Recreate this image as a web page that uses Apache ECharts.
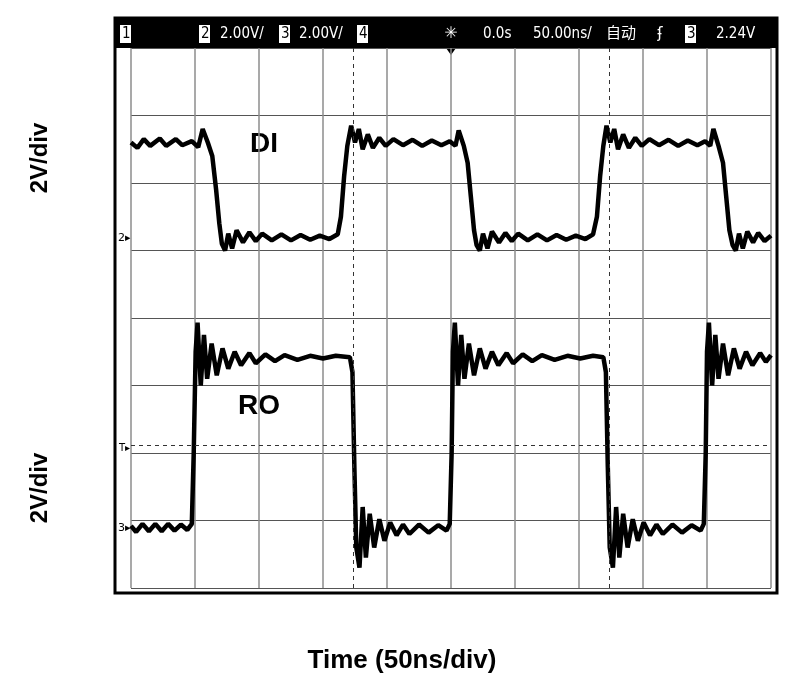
<!DOCTYPE html>
<html><head><meta charset="utf-8">
<script src="https://cdn.jsdelivr.net/npm/echarts@6/dist/echarts.min.js"></script>
<style>html,body{margin:0;background:#fff}#c{width:786px;height:685px}</style>
</head><body><div id="c"></div>
<script>
// 示波器截图：时间和电压都按格(div)计
var diWave = [
  [0,6.6],[0.1,6.52],[0.2,6.65],[0.3,6.55],[0.45,6.66],[0.55,6.55],[0.7,6.65],[0.8,6.56],[0.95,6.62],[1.05,6.53],
  [1.12,6.8],[1.2,6.6],[1.27,6.4],[1.33,5.9],[1.38,5.4],[1.42,5.1],[1.47,5.0],[1.52,5.25],[1.58,5.03],[1.65,5.3],
  [1.75,5.12],[1.85,5.27],[1.95,5.14],[2.05,5.25],[2.2,5.15],[2.35,5.24],[2.5,5.15],[2.65,5.23],[2.8,5.16],[2.95,5.22],
  [3.1,5.17],[3.23,5.24],[3.28,5.5],[3.33,6.1],[3.38,6.55],[3.44,6.85],[3.5,6.6],[3.56,6.8],[3.62,6.5],[3.7,6.72],
  [3.78,6.52],[3.88,6.67],[3.98,6.55],[4.1,6.65],[4.25,6.56],[4.4,6.64],[4.55,6.55],[4.7,6.63],[4.85,6.56],[4.98,6.62],
  [5.07,6.55],[5.12,6.78],[5.2,6.55],[5.26,6.3],[5.31,5.8],[5.36,5.3],[5.4,5.08],[5.45,5.0],[5.5,5.25],[5.57,5.03],
  [5.64,5.28],[5.75,5.12],[5.85,5.26],[5.95,5.14],[6.05,5.25],[6.2,5.15],[6.35,5.24],[6.5,5.15],[6.65,5.23],[6.8,5.16],
  [6.95,5.22],[7.1,5.17],[7.22,5.24],[7.28,5.5],[7.33,6.1],[7.38,6.55],[7.43,6.85],[7.49,6.6],[7.55,6.8],[7.61,6.5],
  [7.69,6.72],[7.78,6.52],[7.88,6.67],[7.98,6.55],[8.1,6.65],[8.25,6.56],[8.4,6.64],[8.55,6.55],[8.7,6.63],[8.85,6.56],
  [8.97,6.62],[9.05,6.55],[9.1,6.8],[9.18,6.55],[9.25,6.3],[9.3,5.8],[9.35,5.3],[9.4,5.08],[9.45,5.0],[9.5,5.25],
  [9.56,5.03],[9.63,5.28],[9.72,5.12],[9.8,5.26],[9.9,5.14],[10,5.22]
];
var roWave = [
  [0,0.92],[0.08,0.83],[0.18,0.95],[0.28,0.84],[0.38,0.95],[0.48,0.84],[0.58,0.95],[0.68,0.85],[0.78,0.94],[0.88,0.86],
  [0.95,0.95],[0.98,2.0],[1.01,3.5],[1.04,3.93],[1.09,3.0],[1.14,3.75],[1.19,3.1],[1.26,3.62],[1.34,3.15],[1.43,3.55],
  [1.52,3.25],[1.62,3.5],[1.72,3.3],[1.85,3.48],[1.95,3.33],[2.1,3.46],[2.25,3.36],[2.4,3.45],[2.6,3.38],[2.8,3.44],
  [3.0,3.4],[3.2,3.44],[3.42,3.42],[3.46,3.2],[3.49,1.8],[3.52,0.6],[3.57,0.3],[3.62,1.2],[3.67,0.45],[3.73,1.1],
  [3.8,0.6],[3.88,1.02],[3.96,0.7],[4.05,0.97],[4.15,0.78],[4.25,0.94],[4.35,0.8],[4.5,0.94],[4.65,0.82],[4.8,0.93],
  [4.93,0.85],[4.98,0.95],[5.01,2.0],[5.03,3.5],[5.06,3.93],[5.11,3.0],[5.16,3.75],[5.21,3.1],[5.28,3.62],[5.36,3.15],
  [5.45,3.55],[5.54,3.25],[5.64,3.5],[5.74,3.3],[5.87,3.48],[5.97,3.33],[6.12,3.46],[6.27,3.36],[6.42,3.45],[6.62,3.38],
  [6.82,3.44],[7.02,3.4],[7.22,3.44],[7.38,3.42],[7.42,3.2],[7.45,1.8],[7.48,0.6],[7.53,0.3],[7.58,1.2],[7.63,0.45],
  [7.69,1.1],[7.76,0.6],[7.84,1.02],[7.92,0.7],[8.01,0.97],[8.11,0.78],[8.21,0.94],[8.31,0.8],[8.46,0.94],[8.61,0.82],
  [8.76,0.93],[8.9,0.85],[8.95,0.95],[8.98,2.0],[9.0,3.5],[9.03,3.93],[9.08,3.0],[9.13,3.75],[9.18,3.1],[9.25,3.62],
  [9.33,3.15],[9.42,3.55],[9.51,3.25],[9.61,3.5],[9.71,3.3],[9.83,3.48],[9.92,3.35],[10,3.45]
];
var cursorX = [3.48, 7.47];
var triggerLevel = 2.12;
var headerTexts = [
  ['1', 121], ['2', 200], ['2.00V/', 220], ['3', 280], ['2.00V/', 299], ['4', 358],
  ['0.0s', 483], ['50.00ns/', 533], ['自动', 606], ['3', 686], ['2.24V', 716]
];
var boxed = ['1', '2', '3', '4'];

var graphics = [
  {type: 'rect', shape: {x: 115, y: 18, width: 662, height: 575}, style: {fill: 'none', stroke: '#000', lineWidth: 3}},
  {type: 'rect', shape: {x: 116, y: 19, width: 660, height: 29}, style: {fill: '#000'}},
  {type: 'text', left: 250, top: 130, style: {text: 'DI', font: 'bold 28px "Liberation Sans", Arial', fill: '#000'}},
  {type: 'text', left: 238, top: 392, style: {text: 'RO', font: 'bold 28px "Liberation Sans", Arial', fill: '#000'}},
  {type: 'text', x: 40, y: 158, rotation: Math.PI / 2, style: {text: '2V/div', font: 'bold 24px "Liberation Sans", Arial', fill: '#000', align: 'center', verticalAlign: 'middle'}},
  {type: 'text', x: 40, y: 488, rotation: Math.PI / 2, style: {text: '2V/div', font: 'bold 24px "Liberation Sans", Arial', fill: '#000', align: 'center', verticalAlign: 'middle'}},
  {type: 'text', x: 402, y: 661, style: {text: 'Time (50ns/div)', font: 'bold 26px "Liberation Sans", Arial', fill: '#000', align: 'center', verticalAlign: 'middle'}},
  {type: 'text', x: 118, y: 238, style: {text: '2▸', font: '11px "DejaVu Sans"', fill: '#000', verticalAlign: 'middle'}},
  {type: 'text', x: 118, y: 528, style: {text: '3▸', font: '11px "DejaVu Sans"', fill: '#000', verticalAlign: 'middle'}},
  {type: 'text', x: 119, y: 448, style: {text: 'T▸', font: '10px "DejaVu Sans"', fill: '#000', verticalAlign: 'middle'}},
  {type: 'text', x: 451, y: 34, style: {text: '✳', font: '16px "DejaVu Sans"', fill: '#fff', align: 'center', verticalAlign: 'middle'}},
  {type: 'text', x: 660, y: 34, style: {text: 'ʄ', font: '15px "DejaVu Sans"', fill: '#fff', align: 'center', verticalAlign: 'middle'}},
  {type: 'polygon', shape: {points: [[446, 48], [456, 48], [451, 55]]}, style: {fill: '#000'}}
];
headerTexts.forEach(function (t) {
  var isBox = boxed.indexOf(t[0]) >= 0;
  if (isBox) {
    graphics.push({type: 'rect', shape: {x: t[1] - 1, y: 25, width: 11, height: 18}, style: {fill: '#fff'}});
  }
  graphics.push({type: 'text', x: t[1] + (isBox ? 1 : 0), y: 34, style: {
    text: t[0], font: '15px "DejaVu Sans Condensed", "Noto Sans CJK SC"', fill: isBox ? '#000' : '#fff', verticalAlign: 'middle'}});
});

var option = {
  animation: false,
  backgroundColor: '#fff',
  grid: {left: 131, top: 48, width: 640, height: 540},
  xAxis: {type: 'value', min: 0, max: 10, interval: 1,
    axisLine: {show: false}, axisTick: {show: false}, axisLabel: {show: false},
    splitLine: {lineStyle: {color: '#8c8c8c', width: 1.5}}},
  yAxis: {type: 'value', min: 0, max: 8, interval: 1,
    axisLine: {show: false}, axisTick: {show: false}, axisLabel: {show: false},
    splitLine: {lineStyle: {color: '#555', width: 1.2}}},
  graphic: graphics,
  series: [
    {type: 'line', data: diWave, showSymbol: false, lineStyle: {color: '#000', width: 4.5}},
    {type: 'line', data: roWave, showSymbol: false, lineStyle: {color: '#000', width: 4.5},
      markLine: {silent: true, symbol: 'none', label: {show: false},
        lineStyle: {color: '#333', type: [4, 4], width: 1},
        data: [{xAxis: cursorX[0]}, {xAxis: cursorX[1]}, {yAxis: triggerLevel}]}}
  ]
};
var chart = echarts.init(document.getElementById('c'));
chart.setOption(option);
</script></body></html>
